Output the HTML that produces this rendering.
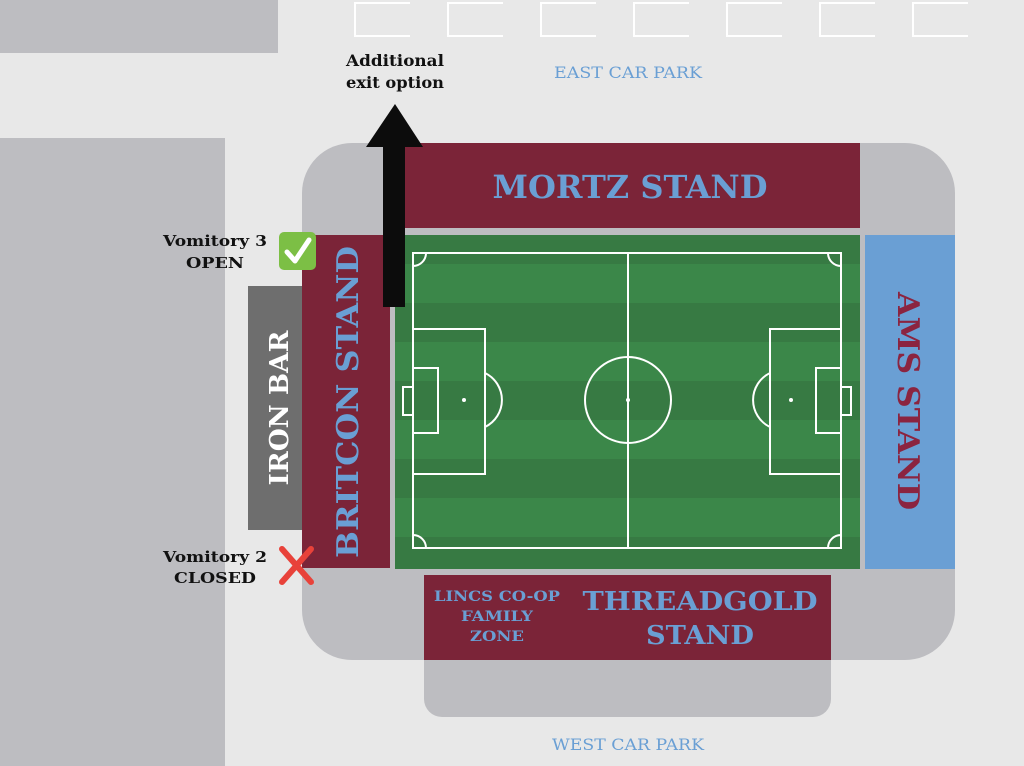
<!DOCTYPE html>
<html><head><meta charset="utf-8"><style>
html,body{margin:0;padding:0;width:1024px;height:766px;overflow:hidden;background:#e8e8e8}
svg{display:block}
.s{font-family:"DejaVu Serif","Liberation Serif",serif;font-weight:bold}
</style></head><body>
<svg width="1024" height="766" viewBox="0 0 1024 766" xmlns="http://www.w3.org/2000/svg">
<defs>
<pattern id="st" x="0" y="225" width="10" height="78" patternUnits="userSpaceOnUse">
<rect width="10" height="39" fill="#377a43"/><rect y="39" width="10" height="39" fill="#3b8749"/>
</pattern>
</defs>
<rect width="1024" height="766" fill="#e8e8e8"/>
<rect x="0" y="0" width="278" height="53" fill="#bdbdc1"/>
<rect x="0" y="138" width="225" height="628" fill="#bdbdc1"/>
<!-- parking bays -->
<g fill="none" stroke="#fff" stroke-width="2">
<path d="M410 3H355V36H410"/><path d="M503 3H448V36H503"/><path d="M596 3H541V36H596"/>
<path d="M689 3H634V36H689"/><path d="M782 3H727V36H782"/><path d="M875 3H820V36H875"/>
<path d="M968 3H913V36H968"/>
</g>
<!-- stadium ground -->
<rect x="302" y="143" width="653" height="517" rx="50" fill="#bdbdc1"/>
<rect x="424" y="600" width="407" height="117" rx="18" fill="#bdbdc1"/>
<!-- stands -->
<rect x="405" y="143" width="455" height="85" fill="#7b2438"/>
<rect x="302" y="235" width="88" height="333" fill="#7b2438"/>
<rect x="865" y="235" width="90" height="334" fill="#6a9fd4"/>
<rect x="424" y="575" width="407" height="85" fill="#7b2438"/>
<rect x="248" y="286" width="54" height="244" fill="#6e6e6e"/>
<!-- pitch -->
<rect x="395" y="235" width="465" height="334" fill="url(#st)"/>
<g fill="none" stroke="#fff" stroke-width="2">
<rect x="413" y="253" width="428" height="295"/>
<line x1="628" y1="253" x2="628" y2="548"/>
<circle cx="628" cy="400" r="43"/>
<rect x="413" y="329" width="72" height="145"/>
<rect x="413" y="368" width="25" height="65"/>
<rect x="403" y="387" width="10" height="28"/>
<path d="M485 373A30 30 0 0 1 485 427"/>
<rect x="770" y="329" width="71" height="145"/>
<rect x="816" y="368" width="25" height="65"/>
<rect x="841" y="387" width="10" height="28"/>
<path d="M770 373A30 30 0 0 0 770 427"/>
<path d="M413 266A13 13 0 0 0 426 253"/>
<path d="M828 253A13 13 0 0 0 841 266"/>
<path d="M413 535A13 13 0 0 1 426 548"/>
<path d="M828 548A13 13 0 0 1 841 535"/>
</g>
<g fill="#fff"><circle cx="628" cy="400" r="2"/><circle cx="464" cy="400" r="2"/><circle cx="791" cy="400" r="2"/></g>
<!-- arrow -->
<rect x="383" y="145" width="22" height="162" fill="#0c0c0c"/>
<polygon points="366,147 423,147 395,104" fill="#0c0c0c"/>
<!-- texts -->
<text class="s" x="630" y="198" font-size="32" fill="#6a9fd4" text-anchor="middle" textLength="275" lengthAdjust="spacingAndGlyphs">MORTZ STAND</text>
<text class="s" x="628" y="78" font-size="16" fill="#6a9fd4" text-anchor="middle" textLength="148" lengthAdjust="spacingAndGlyphs" style="font-weight:normal">EAST CAR PARK</text>
<text class="s" x="628" y="750" font-size="16" fill="#6a9fd4" text-anchor="middle" textLength="152" lengthAdjust="spacingAndGlyphs" style="font-weight:normal">WEST CAR PARK</text>
<text class="s" x="395" y="66" font-size="16" fill="#111" text-anchor="middle" textLength="98" lengthAdjust="spacingAndGlyphs">Additional</text>
<text class="s" x="395" y="88" font-size="16" fill="#111" text-anchor="middle" textLength="98" lengthAdjust="spacingAndGlyphs">exit option</text>
<text class="s" x="215" y="246" font-size="15" fill="#111" text-anchor="middle" textLength="104" lengthAdjust="spacingAndGlyphs">Vomitory 3</text>
<text class="s" x="215" y="268" font-size="15" fill="#111" text-anchor="middle" textLength="58" lengthAdjust="spacingAndGlyphs">OPEN</text>
<text class="s" x="215" y="562" font-size="15" fill="#111" text-anchor="middle" textLength="104" lengthAdjust="spacingAndGlyphs">Vomitory 2</text>
<text class="s" x="215" y="583" font-size="15" fill="#111" text-anchor="middle" textLength="82" lengthAdjust="spacingAndGlyphs">CLOSED</text>
<!-- check -->
<rect x="279" y="232" width="37" height="38" rx="5" fill="#7cbf45"/>
<path d="M287 252L295 261L309 240" fill="none" stroke="#fff" stroke-width="5" stroke-linecap="round" stroke-linejoin="round"/>
<!-- cross -->
<g stroke="#e8423a" stroke-width="6" stroke-linecap="round"><line x1="282" y1="549" x2="311" y2="582"/><line x1="311" y1="549" x2="282" y2="582"/></g>
<text class="s" transform="translate(358 402) rotate(-90)" font-size="30" fill="#6a9fd4" text-anchor="middle" textLength="312" lengthAdjust="spacingAndGlyphs">BRITCON STAND</text>
<text class="s" transform="translate(288 408) rotate(-90)" font-size="26" fill="#fff" text-anchor="middle" textLength="155" lengthAdjust="spacingAndGlyphs">IRON BAR</text>
<text class="s" transform="translate(898 401) rotate(90)" font-size="30" fill="#8b2440" text-anchor="middle" textLength="218" lengthAdjust="spacingAndGlyphs">AMS STAND</text>
<text class="s" x="700" y="610" font-size="26" fill="#6a9fd4" text-anchor="middle" textLength="235" lengthAdjust="spacingAndGlyphs">THREADGOLD</text>
<text class="s" x="700" y="644" font-size="26" fill="#6a9fd4" text-anchor="middle" textLength="108" lengthAdjust="spacingAndGlyphs">STAND</text>
<text class="s" x="497" y="601" font-size="14" fill="#6a9fd4" text-anchor="middle" textLength="126" lengthAdjust="spacingAndGlyphs">LINCS CO-OP</text>
<text class="s" x="497" y="621" font-size="14" fill="#6a9fd4" text-anchor="middle" textLength="72" lengthAdjust="spacingAndGlyphs">FAMILY</text>
<text class="s" x="497" y="641" font-size="14" fill="#6a9fd4" text-anchor="middle" textLength="54" lengthAdjust="spacingAndGlyphs">ZONE</text>
</svg>
</body></html>
